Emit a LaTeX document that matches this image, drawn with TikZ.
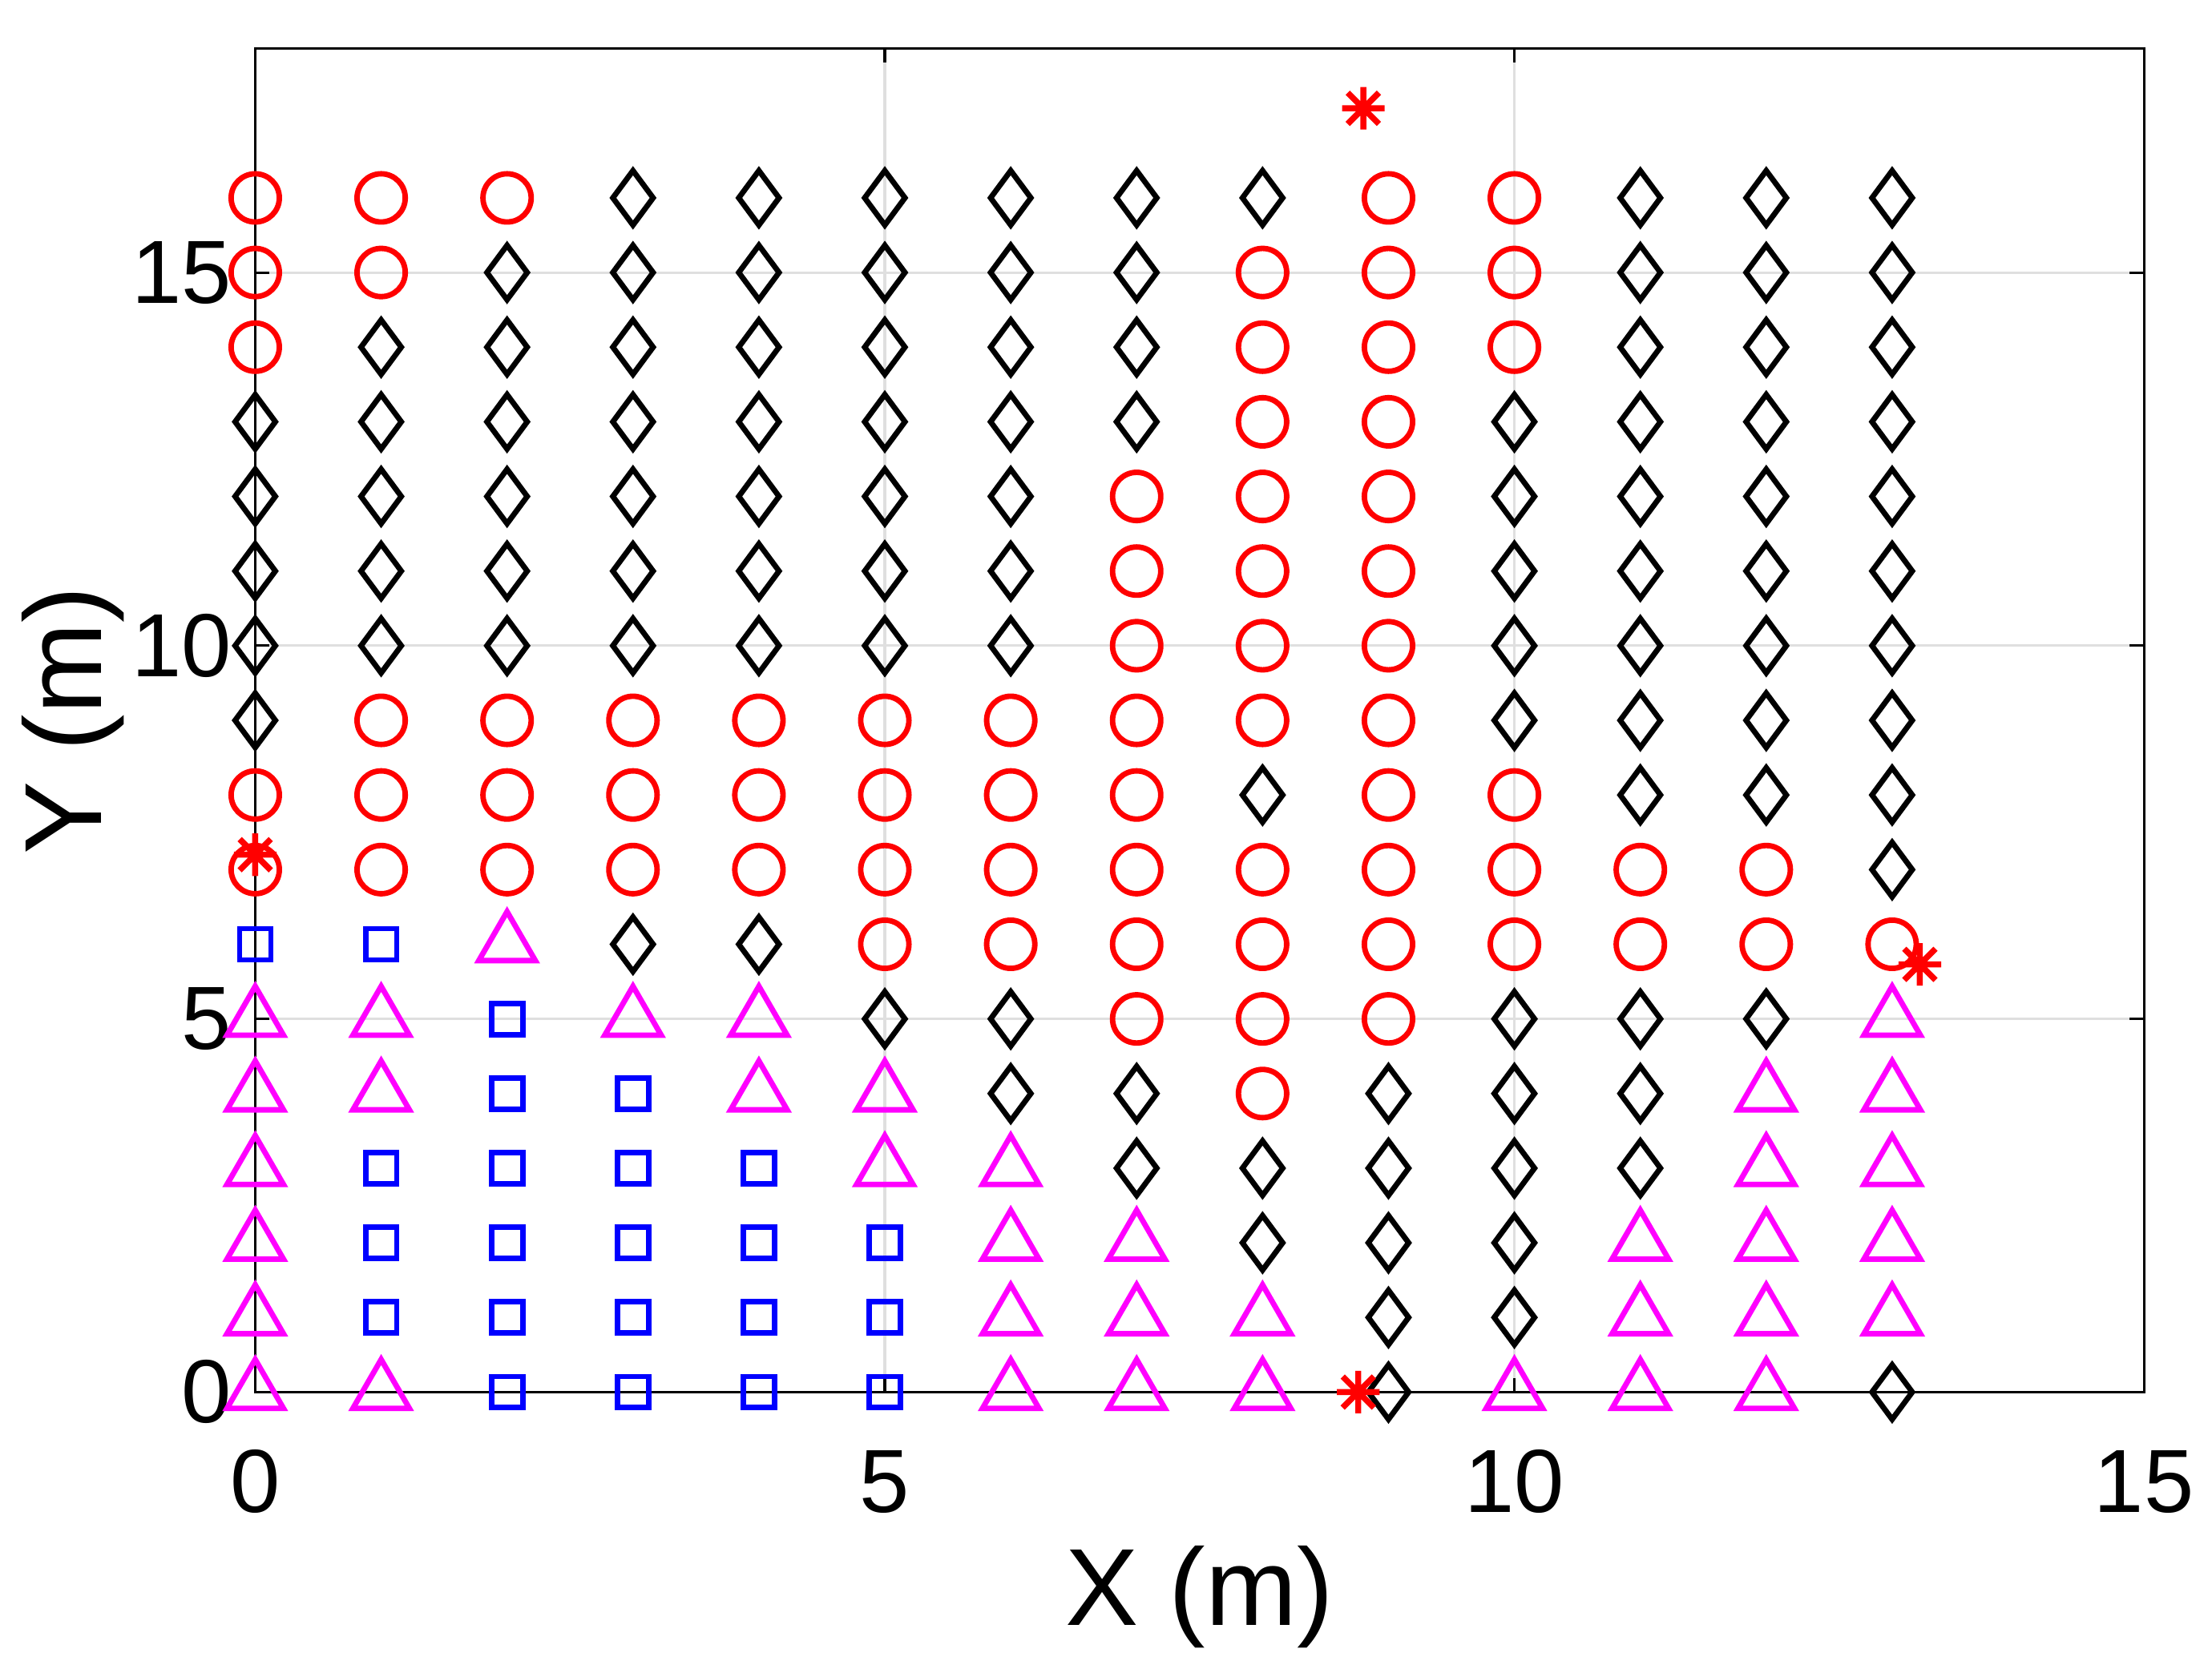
\documentclass[tikz,border=0pt]{standalone}
\usepackage{fontspec}
\setmainfont{Liberation Sans}
\usetikzlibrary{shapes.geometric}
\definecolor{mag}{RGB}{255,0,255}
\tikzset{
 mk/.style={inner sep=0pt,line width=1.1pt},
 mo/.style={mk,circle,draw=red,minimum size=0.34cm},
 md/.style={mk,diamond,draw=black,aspect=0.7,minimum width=0.30cm,minimum height=0.40cm},
 mt/.style={mk,regular polygon,regular polygon sides=3,draw=mag,minimum size=0.46cm},
 ms/.style={mk,rectangle,draw=blue,minimum size=0.22cm},
 tick/.style={font=\fontsize{18}{20}\selectfont},
 lab/.style={font=\fontsize{22}{24}\selectfont},
 star/.pic={\draw[red,line width=1.2pt] (-0.15cm,0)--(0.15cm,0) (0,-0.15cm)--(0,0.15cm) (-0.11cm,-0.11cm)--(0.11cm,0.11cm) (-0.11cm,0.11cm)--(0.11cm,-0.11cm);}
}
\begin{document}
\begin{tikzpicture}[x=0.888cm,y=0.5265cm]
\useasboundingbox (-1.80cm,-1.98cm) rectangle (13.80cm,9.82cm);
\foreach \g in {5,10} \draw[gray!25,line width=0.5pt] (\g,0)--(\g,18);
\foreach \g in {5,10,15} \draw[gray!25,line width=0.5pt] (0,\g)--(15,\g);
\draw[line width=0.5pt] (0,0) rectangle (15,18);
\foreach \g in {0,5,10,15} {
 \draw[line width=0.5pt] (\g,0)--++(0,0.1cm) (\g,18)--++(0,-0.1cm);
 \node[tick] (xt\g) at (\g,-1.2) {\g};}
\foreach \g in {0,5,10,15} {
 \draw[line width=0.5pt] (0,\g)--++(0.1cm,0) (15,\g)--++(-0.1cm,0);
 \node[tick,anchor=east] (yt\g) at (-0.05,\g) {\g};}
\node[lab] (xl) at (7.5,-2.75) {X (m)};
\node[lab,rotate=90] (yl) at (-1.45,9) {Y (m)};
\foreach \r/\row in {
16/{o,o,o,d,d,d,d,d,d,o,o,d,d,d},
15/{o,o,d,d,d,d,d,d,o,o,o,d,d,d},
14/{o,d,d,d,d,d,d,d,o,o,o,d,d,d},
13/{d,d,d,d,d,d,d,d,o,o,d,d,d,d},
12/{d,d,d,d,d,d,d,o,o,o,d,d,d,d},
11/{d,d,d,d,d,d,d,o,o,o,d,d,d,d},
10/{d,d,d,d,d,d,d,o,o,o,d,d,d,d},
9/{d,o,o,o,o,o,o,o,o,o,d,d,d,d},
8/{o,o,o,o,o,o,o,o,d,o,o,d,d,d},
7/{o,o,o,o,o,o,o,o,o,o,o,o,o,d},
6/{s,s,t,d,d,o,o,o,o,o,o,o,o,o},
5/{t,t,s,t,t,d,d,o,o,o,d,d,d,t},
4/{t,t,s,s,t,t,d,d,o,d,d,d,t,t},
3/{t,s,s,s,s,t,t,d,d,d,d,d,t,t},
2/{t,s,s,s,s,s,t,t,d,d,d,t,t,t},
1/{t,s,s,s,s,s,t,t,t,d,d,t,t,t},
0/{t,t,s,s,s,s,t,t,t,d,t,t,t,d}} {
 \foreach \c [count=\i from 0] in \row {
  \node[m\c] (n\i-\r) at (\i,\r) {};
 }
}
\coordinate (s1) at (0,7.2);
\coordinate (s2) at (8.8,17.2);
\coordinate (s3) at (13.22,5.73);
\coordinate (s4) at (8.76,0);
\foreach \s in {s1,s2,s3,s4} \pic at (\s) {star};
\end{tikzpicture}
\end{document}
